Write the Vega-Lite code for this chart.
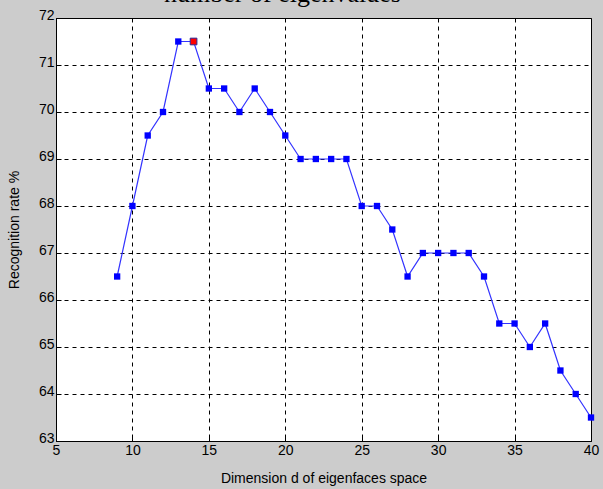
{
  "$schema": "https://vega.github.io/schema/vega-lite/v6.json",
  "autosize": "none",
  "width": 535,
  "height": 423,
  "padding": {"left": 56, "top": 18, "right": 12, "bottom": 48},
  "background": "#cccccc",
  "title": {
    "text": "number of eigenvalues",
    "font": "Liberation Serif",
    "fontSize": 26,
    "fontWeight": "normal",
    "color": "#000000",
    "anchor": "middle",
    "frame": "group",
    "dx": -41,
    "offset": -25,
    "baseline": "bottom"
  },
  "config": {
    "view": {"stroke": "#000000", "strokeWidth": 1, "fill": "#ffffff"},
    "axis": {
      "labelFont": "Liberation Sans",
      "labelFontSize": 14,
      "labelColor": "#000000",
      "titleFont": "Liberation Sans",
      "titleFontSize": 14,
      "titleFontWeight": "normal",
      "titleColor": "#000000",
      "domainColor": "#000000",
      "tickColor": "#000000",
      "tickSize": -5,
      "gridColor": "#000000",
      "gridDash": [4, 4],
      "gridOpacity": 1,
      "gridWidth": 1
    }
  },
  "data": {
    "values": [
      {"d": 9, "rate": 66.5},
      {"d": 10, "rate": 68},
      {"d": 11, "rate": 69.5},
      {"d": 12, "rate": 70},
      {"d": 13, "rate": 71.5},
      {"d": 14, "rate": 71.5},
      {"d": 15, "rate": 70.5},
      {"d": 16, "rate": 70.5},
      {"d": 17, "rate": 70},
      {"d": 18, "rate": 70.5},
      {"d": 19, "rate": 70},
      {"d": 20, "rate": 69.5},
      {"d": 21, "rate": 69},
      {"d": 22, "rate": 69},
      {"d": 23, "rate": 69},
      {"d": 24, "rate": 69},
      {"d": 25, "rate": 68},
      {"d": 26, "rate": 68},
      {"d": 27, "rate": 67.5},
      {"d": 28, "rate": 66.5},
      {"d": 29, "rate": 67},
      {"d": 30, "rate": 67},
      {"d": 31, "rate": 67},
      {"d": 32, "rate": 67},
      {"d": 33, "rate": 66.5},
      {"d": 34, "rate": 65.5},
      {"d": 35, "rate": 65.5},
      {"d": 36, "rate": 65},
      {"d": 37, "rate": 65.5},
      {"d": 38, "rate": 64.5},
      {"d": 39, "rate": 64},
      {"d": 40, "rate": 63.5}
    ]
  },
  "encoding": {
    "x": {
      "field": "d",
      "type": "quantitative",
      "scale": {"domain": [5, 40], "nice": false, "zero": false},
      "axis": {"values": [5, 10, 15, 20, 25, 30, 35, 40], "title": "Dimension d of eigenfaces space", "titlePadding": 14, "labelPadding": 7, "labelFlush": false}
    },
    "y": {
      "field": "rate",
      "type": "quantitative",
      "scale": {"domain": [63, 72], "nice": false, "zero": false},
      "axis": {"values": [63, 64, 65, 66, 67, 68, 69, 70, 71, 72], "title": "Recognition rate %", "titlePadding": 17, "labelPadding": 7, "labelOffset": -3}
    }
  },
  "layer": [
    {"mark": {"type": "line", "color": "#3333ff", "strokeWidth": 1.2}},
    {"mark": {"type": "point", "shape": "square", "filled": true, "color": "#0000ff", "size": 40, "opacity": 1}},
    {
      "transform": [{"filter": "datum.d == 14"}],
      "mark": {"type": "point", "shape": "square", "filled": true, "fill": "#ff0000", "stroke": "#333399", "strokeWidth": 1, "size": 45, "opacity": 1}
    }
  ]
}
